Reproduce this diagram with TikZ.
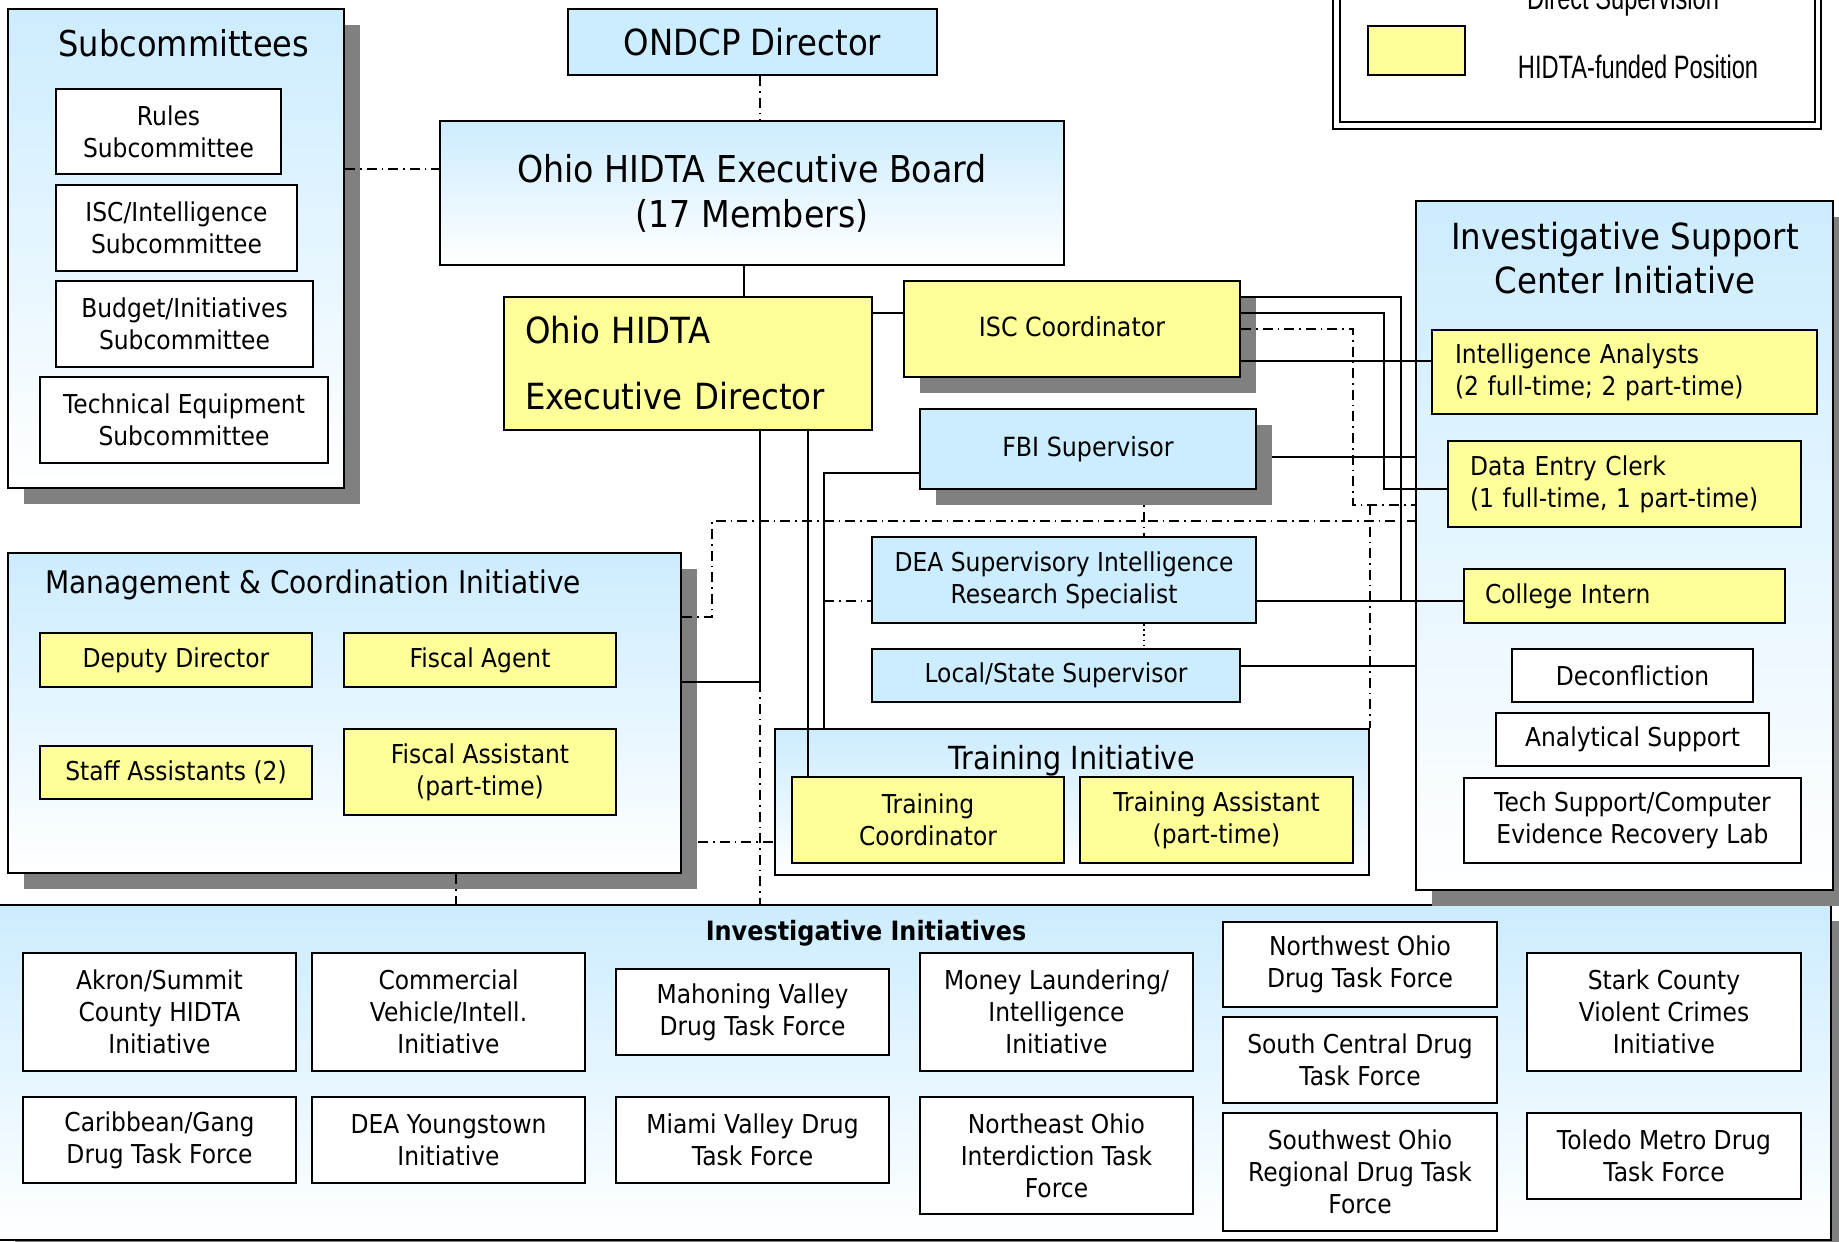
\documentclass[tikz,border=0pt]{standalone}
\usepackage{fontspec}
\usetikzlibrary{shadows,calc}
\newfontfamily\tf[FakeStretch=0.9]{DejaVu Sans}
\newfontfamily\lf[FakeStretch=0.73]{Liberation Sans}
\definecolor{bl}{RGB}{204,236,255}
\definecolor{yl}{RGB}{255,255,153}
\definecolor{shg}{RGB}{128,128,128}
\newcommand\fsz[2]{\fontsize{#1}{#2}\selectfont}
\pgfdeclarelayer{bg}
\pgfdeclarelayer{lines}
\pgfsetlayers{bg,lines,main}
\begin{document}
\begin{tikzpicture}[x=0.5pt,y=-0.5pt,
 bx/.style={draw=black, line width=1pt, inner sep=0pt, align=center, font=\tf\fsz{13}{16}},
 corners/.style n args={4}{at={({(#1+#3)/2},{(#2+#4)/2})}, minimum width={(#3-#1)*0.5pt}, minimum height={(#4-#2)*0.5pt}},
 wbox/.style={bx, fill=white},
 ybox/.style={bx, fill=yl},
 bbox/.style={bx, fill=bl},
 gbox/.style={bx, top color=bl, bottom color=white},
 shd/.style={drop shadow={shadow xshift=8pt, shadow yshift=-8pt, fill=shg, opacity=1, draw=none}},
 ttl/.style={inner sep=0pt, align=center},
 conn/.style={line width=1pt},
 dd/.style={line width=0.8pt, dash pattern=on 5pt off 2.5pt on 0.8pt off 2.5pt},
 dots/.style={line width=0.8pt, dash pattern=on 0.8pt off 1.8pt}
]
\useasboundingbox (0,0) rectangle (1839,1241);

% ---------- background containers ----------
\begin{pgfonlayer}{bg}
\node[gbox, shd, corners={-1}{905}{1831}{1240}] (ii) {};
\node[gbox, shd, corners={1416}{201}{1833}{890}] (isc) {};
\node[gbox, shd, corners={8}{9}{344}{488}] (sub) {};
\node[gbox, shd, corners={8}{553}{681}{873}] (mci) {};
\node[gbox, corners={775}{729}{1369}{875}] (ti) {};
\node[ybox, shd, font=\tf\fsz{13.2}{16}, corners={904}{281}{1240}{377}] (iscc) {\raisebox{3pt}{ISC Coordinator}};
\end{pgfonlayer}

% ---------- legend ----------
\node[draw, line width=1.3pt, fill=white, inner sep=0pt, corners={1333}{-60}{1821}{129}] (lego) {};
\node[draw, line width=1pt, inner sep=0pt, corners={1340}{-60}{1815}{122}] (legi) {};
\node[ybox, corners={1368}{26}{1465}{75}] (sw) {};
\node[ttl, font=\lf\fsz{16.2}{19}] (lt1) at (1638,67) {HIDTA-funded Position};
\node[ttl, font=\lf\fsz{16.2}{19}, anchor=base] (lt2) at (1623,10) {Direct Supervision};

% ---------- top ----------
\node[bbox, font=\tf\fsz{18}{21}, corners={568}{9}{937}{75}] (ondcp) {ONDCP Director};
\node[gbox, font=\tf\fsz{18.5}{22.5}, corners={440}{121}{1064}{265}] (eb) {Ohio HIDTA Executive Board\\(17 Members)};
\node[ybox, font=\tf\fsz{18}{33}, align=left, text width=163pt, corners={504}{297}{872}{430}] (ed) {Ohio HIDTA\\Executive Director};

% ---------- subcommittees ----------
\node[ttl, font=\tf\fsz{17.8}{20}] (subt) at (184,43) {Subcommittees};
\node[wbox, corners={56}{89}{281}{174}] (rules) {Rules\\Subcommittee};
\node[wbox, corners={56}{185}{297}{271}] (iscsub) {ISC/Intelligence\\Subcommittee};
\node[wbox, corners={56}{281}{313}{367}] (budget) {Budget/Initiatives\\Subcommittee};
\node[wbox, corners={40}{377}{328}{463}] (techeq) {Technical Equipment\\Subcommittee};

% ---------- management ----------
\node[ttl, anchor=west, font=\tf\fsz{15.6}{18}] (mcit) at (45,585) {Management \& Coordination Initiative};
\node[ybox, corners={40}{633}{312}{687}] (dd) {Deputy Director};
\node[ybox, corners={344}{633}{616}{687}] (fa) {Fiscal Agent};
\node[ybox, corners={40}{746}{312}{799}] (sa) {Staff Assistants (2)};
\node[ybox, corners={344}{729}{616}{815}] (fas) {Fiscal Assistant\\(part-time)};

% ---------- middle ----------
\node[bbox, shd, font=\tf\fsz{13.2}{16}, corners={920}{409}{1256}{489}] (fbi) {FBI Supervisor};
\node[bbox, corners={872}{537}{1256}{623}] (dea) {DEA Supervisory Intelligence\\Research Specialist};
\node[bbox, corners={872}{649}{1240}{702}] (ls) {Local/State Supervisor};
\node[ttl, font=\tf\fsz{15.9}{18}] (tit) at (1072,761) {Training Initiative};
\node[ybox, corners={792}{777}{1064}{863}] (tc) {Training\\Coordinator};
\node[ybox, corners={1080}{777}{1353}{863}] (ta) {Training Assistant\\(part-time)};

% ---------- ISC initiative ----------
\node[ttl, font=\tf\fsz{18}{21.8}] (isct) at (1625,258) {Investigative Support\\Center Initiative};
\node[ybox, align=left, text width=169.5pt, corners={1432}{330}{1817}{414}] (ia) {Intelligence Analysts\\(2 full-time; 2 part-time)};
\node[ybox, align=left, text width=154.5pt, corners={1448}{441}{1801}{527}] (dec) {Data Entry Clerk\\(1 full-time, 1 part-time)};
\node[ybox, align=left, text width=139.5pt, corners={1464}{569}{1785}{623}] (ci) {College Intern};
\node[wbox, corners={1512}{649}{1753}{702}] (decon) {Deconfliction};
\node[wbox, corners={1496}{713}{1769}{766}] (as) {Analytical Support};
\node[wbox, corners={1464}{778}{1801}{863}] (ts) {Tech Support/Computer\\Evidence Recovery Lab};

% ---------- investigative initiatives ----------
\node[ttl, font=\tf\bfseries\fsz{13.3}{16}] (iit) at (866,933) {Investigative Initiatives};
\node[wbox, corners={23}{953}{296}{1071}] (akron) {Akron/Summit\\County HIDTA\\Initiative};
\node[wbox, corners={312}{953}{585}{1071}] (comm) {Commercial\\Vehicle/Intell.\\Initiative};
\node[wbox, corners={616}{969}{889}{1055}] (mahon) {Mahoning Valley\\Drug Task Force};
\node[wbox, corners={23}{1097}{296}{1183}] (carib) {Caribbean/Gang\\Drug Task Force};
\node[wbox, corners={312}{1097}{585}{1183}] (deay) {DEA Youngstown\\Initiative};
\node[wbox, corners={616}{1097}{889}{1183}] (miami) {Miami Valley Drug\\Task Force};
\node[wbox, corners={920}{953}{1193}{1071}] (money) {Money Laundering/\\Intelligence\\Initiative};
\node[wbox, corners={920}{1097}{1193}{1214}] (neo) {Northeast Ohio\\Interdiction Task\\Force};
\node[wbox, corners={1223}{922}{1497}{1007}] (nwo) {Northwest Ohio\\Drug Task Force};
\node[wbox, corners={1223}{1017}{1497}{1103}] (sc) {South Central Drug\\Task Force};
\node[wbox, corners={1223}{1113}{1497}{1231}] (swo) {Southwest Ohio\\Regional Drug Task\\Force};
\node[wbox, corners={1527}{953}{1801}{1071}] (stark) {Stark County\\Violent Crimes\\Initiative};
\node[wbox, corners={1527}{1113}{1801}{1199}] (toledo) {Toledo Metro Drug\\Task Force};

% ---------- helper coordinates ----------
\foreach \c in {456,712,744,760,808,824,1144,1353,1384,1401}{\coordinate (c\c) at (\c,0);}
\foreach \r in {169,297,313,329,361,457,473,489,505,521,601,617,666,682,842}{\coordinate (r\r) at (0,\r);}
\coordinate (mcish) at ([xshift=8pt]mci.east);

% ---------- connectors ----------
\begin{pgfonlayer}{lines}
\draw[dd] (ondcp.south -| c760) -- (eb.north -| c760);
\draw[conn] (eb.south -| c744) -- (ed.north -| c744);
\draw[dd] (sub.east |- r169) -- (eb.west |- r169);
\draw[conn] (ed.east |- r313) -- (iscc.west |- r313);
\draw[conn] (iscc.east |- r361) -- (ia.west |- r361);
\draw[conn] (iscc.east |- r313) -- (c1384 |- r313) -- (c1384 |- r489) -- (dec.west |- r489);
\draw[conn] (iscc.east |- r297) -- (c1401 |- r297) -- (c1401 |- r601) -- (ci.west |- r601);
\draw[conn] (dea.east |- r601) -- (ci.west |- r601);
\draw[conn] (fbi.east |- r457) -- (isc.west |- r457);
\draw[conn] (ls.east |- r666) -- (isc.west |- r666);
\draw[dd] (iscc.east |- r329) -- (c1353 |- r329) -- (c1353 |- r505) -- (isc.west |- r505);
\draw[dd] (ti.north east |- r505) -- (ti.north east);
\draw[dd] (mci.east |- r617) -- (c712 |- r617) -- (c712 |- r521) -- (isc.west |- r521);
\draw[dd] (fbi.south -| c1144) -- (dea.north -| c1144);
\draw[dots] (dea.south -| c1144) -- (ls.north -| c1144);
\draw[conn] (ed.south -| c760) -- (c760 |- r682) -- (mci.east |- r682);
\draw[dd] (c760 |- r682) -- (ii.north -| c760);
\draw[dd] (mci.south -| c456) -- (ii.north -| c456);
\draw[dd] (mcish |- r842) -- (ti.west |- r842);
\draw[conn] (ed.south -| c808) -- (tc.north -| c808);
\draw[conn] (fbi.west |- r473) -- (c824 |- r473) -- (ti.north -| c824);
\draw[dd] (c824 |- r601) -- (dea.west |- r601);
\end{pgfonlayer}
\end{tikzpicture}
\end{document}
